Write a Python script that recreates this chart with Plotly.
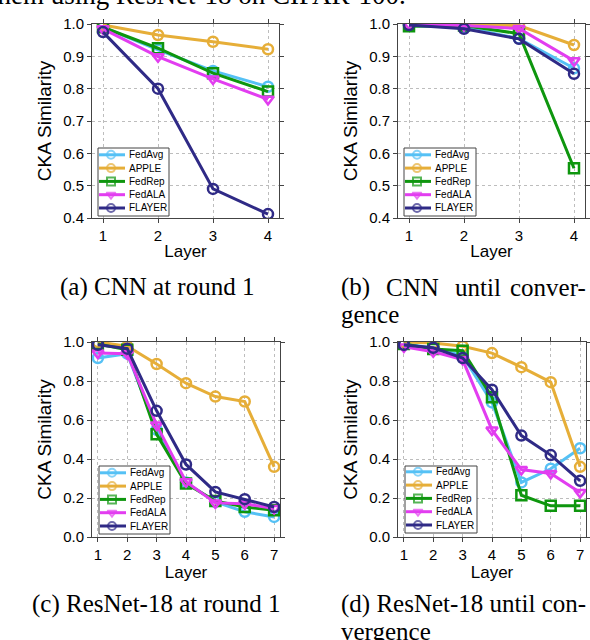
import plotly.graph_objects as go

W, H = 590, 640

METHODS = ["FedAvg", "APPLE", "FedRep", "FedALA", "FLAYER"]
COLORS = ["#55C1F5", "#E6AE38", "#0E960E", "#E23DF0", "#2F2A86"]
SYMBOLS = ["circle-open", "circle-open", "square-open", "triangle-down-open", "circle-open"]

LAYERS_CNN = [1, 2, 3, 4]
LAYERS_RESNET = [1, 2, 3, 4, 5, 6, 7]

# (a) CNN at round 1
CNN_R1_FEDAVG = [0.99, 0.92, 0.855, 0.806]
CNN_R1_APPLE = [0.997, 0.966, 0.945, 0.922]
CNN_R1_FEDREP = [0.99, 0.925, 0.848, 0.791]
CNN_R1_FEDALA = [0.985, 0.899, 0.83, 0.767]
CNN_R1_FLAYER = [0.975, 0.80, 0.49, 0.412]

# (b) CNN until convergence
CNN_CONV_FEDAVG = [0.995, 0.99, 0.955, 0.863]
CNN_CONV_APPLE = [1.0, 0.998, 0.995, 0.935]
CNN_CONV_FEDREP = [0.993, 0.995, 0.97, 0.554]
CNN_CONV_FEDALA = [1.0, 0.995, 0.986, 0.886]
CNN_CONV_FLAYER = [0.997, 0.985, 0.954, 0.846]

# (c) ResNet-18 at round 1
RES_R1_FEDAVG = [0.918, 0.94, 0.55, 0.28, 0.18, 0.129, 0.103]
RES_R1_APPLE = [1.0, 0.978, 0.887, 0.789, 0.72, 0.695, 0.36]
RES_R1_FEDREP = [0.99, 0.96, 0.527, 0.274, 0.185, 0.154, 0.137]
RES_R1_FEDALA = [0.943, 0.94, 0.575, 0.283, 0.175, 0.17, 0.146]
RES_R1_FLAYER = [0.986, 0.966, 0.647, 0.372, 0.231, 0.194, 0.154]

# (d) ResNet-18 until convergence
RES_CONV_FEDAVG = [0.99, 0.97, 0.93, 0.69, 0.28, 0.35, 0.455]
RES_CONV_APPLE = [1.0, 0.995, 0.978, 0.943, 0.871, 0.794, 0.36]
RES_CONV_FEDREP = [0.99, 0.964, 0.955, 0.717, 0.214, 0.16, 0.16]
RES_CONV_FEDALA = [0.975, 0.95, 0.91, 0.549, 0.346, 0.326, 0.228]
RES_CONV_FLAYER = [0.985, 0.97, 0.918, 0.755, 0.52, 0.42, 0.288]

PANELS = [
    (LAYERS_CNN, [CNN_R1_FEDAVG, CNN_R1_APPLE, CNN_R1_FEDREP, CNN_R1_FEDALA, CNN_R1_FLAYER]),
    (LAYERS_CNN, [CNN_CONV_FEDAVG, CNN_CONV_APPLE, CNN_CONV_FEDREP, CNN_CONV_FEDALA, CNN_CONV_FLAYER]),
    (LAYERS_RESNET, [RES_R1_FEDAVG, RES_R1_APPLE, RES_R1_FEDREP, RES_R1_FEDALA, RES_R1_FLAYER]),
    (LAYERS_RESNET, [RES_CONV_FEDAVG, RES_CONV_APPLE, RES_CONV_FEDREP, RES_CONV_FEDALA, RES_CONV_FLAYER]),
]


def px(x):
    return x / W


def py(y):
    return 1 - y / H


# plot boxes in pixels: left, right, top, bottom
BOXES = [(92, 279, 24, 218), (398, 585, 24, 218), (92, 280, 342, 537), (398, 586, 342, 537)]
# legend boxes in pixels: left, right, top, bottom
LEG_BOXES = [(98, 169, 148, 216), (404, 476, 148, 216), (99, 170, 466, 534), (405, 477, 466, 533)]
ROW_GAP = 13.3

fig = go.Figure()

for k, (layers, series) in enumerate(PANELS):
    sfx = "" if k == 0 else str(k + 1)
    for name, vals, col, sym in zip(METHODS, series, COLORS, SYMBOLS):
        fig.add_trace(go.Scatter(
            x=layers, y=vals, name=name, mode="lines+markers", showlegend=False,
            line=dict(color=col, width=3),
            marker=dict(symbol=sym, size=10, color=col, line=dict(color=col, width=2.5)),
            xaxis="x" + sfx, yaxis="y" + sfx,
        ))

# hand-drawn compact legends on a hidden pixel-scaled overlay axis
annotations = []
for (l, r, t, b) in LEG_BOXES:
    fig.add_trace(go.Scatter(
        x=[l, r, r, l, l], y=[t, t, b, b, t], mode="lines", fill="toself",
        fillcolor="white", line=dict(color="#444", width=1),
        xaxis="x5", yaxis="y5", showlegend=False, hoverinfo="skip",
    ))
    for i, (name, col, sym) in enumerate(zip(METHODS, COLORS, SYMBOLS)):
        yy = b - 8 - (len(METHODS) - 1 - i) * ROW_GAP
        fig.add_trace(go.Scatter(
            x=[l + 1, l + 13, l + 27], y=[yy, yy, yy], mode="lines+markers",
            line=dict(color=col, width=3),
            marker=dict(symbol=sym, size=[0, 8, 0], color=col,
                        line=dict(color=col, width=[0, 2, 0])),
            xaxis="x5", yaxis="y5", showlegend=False, hoverinfo="skip", cliponaxis=False,
        ))
        annotations.append(dict(
            text=name, x=px(l + 29), y=py(yy), xref="paper", yref="paper",
            xanchor="left", yanchor="middle", showarrow=False,
            font=dict(family="Liberation Sans", size=10, color="black"),
        ))

axis_common = dict(
    showline=True, mirror="ticks", linecolor="#444", linewidth=1,
    ticks="outside", ticklen=4, tickcolor="#444", automargin=False,
    showgrid=True, gridcolor="#bdbdbd", griddash="dot", gridwidth=1,
    zeroline=False, tickfont=dict(size=15, color="black"),
)

layout = {}
for k, (l, r, t, b) in enumerate(BOXES):
    sfx = "" if k == 0 else str(k + 1)
    cnn = k < 2
    layout["xaxis" + sfx] = dict(
        axis_common, domain=[px(l), px(r)], anchor="y" + sfx,
        range=[0.8, 4.2] if cnn else [0.8, 7.2],
        tickvals=LAYERS_CNN if cnn else LAYERS_RESNET,
        title=dict(text="Layer", font=dict(size=17, color="black"), standoff=2),
    )
    layout["yaxis" + sfx] = dict(
        axis_common, domain=[py(b), py(t)], anchor="x" + sfx,
        range=[0.4, 1.0] if cnn else [0.0, 1.0],
        dtick=0.1 if cnn else 0.2, tickformat=".1f",
        title=dict(text="CKA Similarity", font=dict(size=19, color="black"), standoff=6),
    )
layout["xaxis5"] = dict(domain=[0, 1], range=[0, W], visible=False, anchor="y5",
                        fixedrange=True, automargin=False)
layout["yaxis5"] = dict(domain=[0, 1], range=[H, 0], visible=False, anchor="x5",
                        fixedrange=True, automargin=False)

serif = dict(family="Liberation Serif", size=25, color="black")


def caption(text, x, y, anchor="center"):
    return dict(text=text, x=px(x), y=py(y), xref="paper", yref="paper",
                xanchor=anchor, yanchor="middle", showarrow=False, font=serif)


annotations += [
    dict(text="them using ResNet-18 on CIFAR-100.", x=px(408), y=py(12),
         xref="paper", yref="paper", xanchor="right", yanchor="bottom",
         showarrow=False, font=dict(serif, size=27)),
    caption("(a) CNN at round 1", 156.5, 287),
    caption("(b)", 339, 287, "left"),
    caption("CNN", 384, 287, "left"),
    caption("until", 453, 287, "left"),
    caption("conver-", 588, 287, "right"),
    caption("gence", 339, 314, "left"),
    caption("(c) ResNet-18 at round 1", 156.5, 604),
    caption("(d) ResNet-18 until con-", 339, 604, "left"),
    caption("vergence", 339, 631, "left"),
]

fig.update_layout(
    width=W, height=H, autosize=False,
    margin=dict(l=0, r=0, t=0, b=0, autoexpand=False),
    paper_bgcolor="white", plot_bgcolor="rgba(0,0,0,0)",
    font=dict(family="Liberation Sans", color="black"),
    annotations=annotations,
    **layout,
)

fig.write_html(
    "out.html",
    config={"displayModeBar": False},
    post_script="document.body.style.margin='0';document.body.style.overflow='hidden';",
)
